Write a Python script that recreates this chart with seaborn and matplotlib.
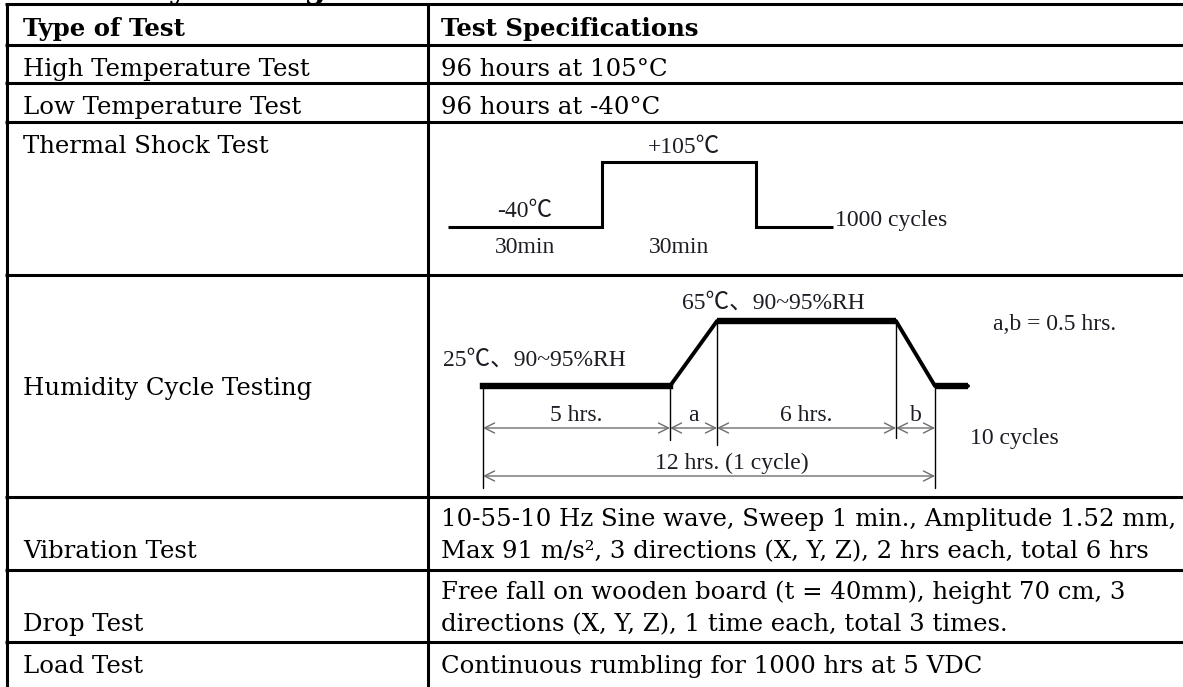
import numpy as np
import matplotlib
matplotlib.use("Agg")
import matplotlib.pyplot as plt
import matplotlib.transforms as mtransforms
import seaborn as sns

# ---------------- data ----------------
title = "Reliability Testing"
header = ["Type of Test", "Test Specifications"]
test_types = ["High Temperature Test", "Low Temperature Test", "Thermal Shock Test",
              "Humidity Cycle Testing", "Vibration Test", "Drop Test", "Load Test"]
spec_lines = [
    ["96 hours at 105°C"],
    ["96 hours at -40°C"],
    [],
    [],
    ["10-55-10 Hz Sine wave, Sweep 1 min., Amplitude 1.52 mm,",
     "Max 91 m/s², 3 directions (X, Y, Z), 2 hrs each, total 6 hrs"],
    ["Free fall on wooden board (t = 40mm), height 70 cm, 3",
     "directions (X, Y, Z), 1 time each, total 3 times."],
    ["Continuous rumbling for 1000 hrs at 5 VDC"],
]

# thermal shock profile (minutes, deg C)
shock_time_min = [0, 30, 30, 60, 60, 75]
shock_temp_c = [-40, -40, 105, 105, -40, -40]
shock_high_label = "+105℃"
shock_low_label = "-40℃"
shock_dwell_label = "30min"
shock_cycles = "1000 cycles"

# humidity cycle profile (hours, deg C)
hum_time_h = [0, 5, 5.5, 11.5, 12, 12.9]
hum_temp_c = [25, 25, 65, 65, 25, 25]
hum_segment_labels = ["5 hrs.", "a", "6 hrs.", "b"]
hum_low_label = "25℃、90~95%RH"
hum_high_label = "65℃、90~95%RH"
hum_ramp_note = "a,b = 0.5 hrs."
hum_cycle_label = "12 hrs. (1 cycle)"
hum_cycles = "10 cycles"

# ---------------- style ----------------
sns.set_theme(style="white")
BODY = ["DejaVu Serif"]
DIAG = ["Liberation Serif", "Noto Sans CJK SC", "DejaVu Sans"]
plt.rcParams["font.family"] = BODY + ["Noto Sans CJK SC"]
plt.rcParams["text.color"] = "black"

W, H = 1183, 687
fig = plt.figure(figsize=(W / 100, H / 100), dpi=100)
canvas = fig.add_axes([0, 0, 1, 1])
canvas.set_xlim(0, W)
canvas.set_ylim(H, 0)
canvas.axis("off")
renderer = fig.canvas.get_renderer()


def width_px(text, size, family, weight="normal"):
    t = fig.text(0, 0, text, fontsize=size, family=family, weight=weight)
    w = t.get_window_extent(renderer).width
    t.remove()
    return w


# body font size fitted to the reference text widths
fs_a = 10 * 290 / width_px(test_types[0], 10, BODY)
fs_b = 10 * 727 / width_px(spec_lines[4][0], 10, BODY)
BODY_FS = (fs_a + fs_b) / 2
DIAG_FS = 17

# ---------------- table grid ----------------
row_edges = [4, 45, 83, 122, 275, 497, 570, 642, 730]
x_left, x_div = 7, 428
LW = 2.2
for y in row_edges:
    canvas.plot([x_left - 1.5, W + 5], [y, y], color="black", lw=LW, solid_capstyle="butt")
for x in (x_left, x_div):
    canvas.plot([x, x], [row_edges[0], H + 5], color="black", lw=LW, solid_capstyle="butt")

# title (only descenders are visible above the table)
canvas.text(7, -2, title, fontsize=22.5, weight="bold", family=BODY, va="baseline",
            ha="left", color="black")

x_txt_l, x_txt_r = 23, 441
canvas.text(x_txt_l, 36, header[0], fontsize=BODY_FS, weight="bold", family=BODY,
            va="baseline", color="black")
canvas.text(x_txt_r, 36, header[1], fontsize=BODY_FS, weight="bold", family=BODY,
            va="baseline", color="black")

LINE = 32
spec_first = [row_edges[1] + 31, row_edges[2] + 31, None, None,
              row_edges[5] + 29, row_edges[6] + 29, row_edges[7] + 31]
name_baselines = [row_edges[1] + 31, row_edges[2] + 31, row_edges[3] + 31,
                  (row_edges[4] + row_edges[5]) / 2 + 9,
                  spec_first[4] + LINE, spec_first[5] + LINE, spec_first[6]]

for i, name in enumerate(test_types):
    canvas.text(x_txt_l, name_baselines[i], name, fontsize=BODY_FS, family=BODY,
                va="baseline", color="black")
    for j, line in enumerate(spec_lines[i]):
        canvas.text(x_txt_r, spec_first[i] + j * LINE, line, fontsize=BODY_FS,
                    family=BODY, va="baseline", color="black")

TXT_C = "#1c1c24"

# ---------------- thermal shock diagram ----------------
ax_t = fig.add_axes([448 / W, 1 - 227 / H, 385 / W, 65 / H])
ax_t.patch.set_alpha(0)
sns.lineplot(x=shock_time_min, y=shock_temp_c, ax=ax_t, sort=False, estimator=None,
             color="black", lw=2.2)
ax_t.set_xlim(0, 75)
ax_t.set_ylim(-40, 105)
ax_t.axis("off")
for ln in ax_t.lines:
    ln.set_clip_on(False)
    ln.set_solid_joinstyle("miter")
    ln.set_solid_capstyle("butt")

bt_t = mtransforms.blended_transform_factory(ax_t.transData, canvas.transData)
canvas.text(46, 153, shock_high_label, transform=bt_t, ha="center", va="baseline",
            fontsize=DIAG_FS, family=DIAG, color=TXT_C)
canvas.text(15, 217, shock_low_label, transform=bt_t, ha="center", va="baseline",
            fontsize=DIAG_FS, family=DIAG, color=TXT_C)
for xm in (15, 45):
    canvas.text(xm, 253, shock_dwell_label, transform=bt_t, ha="center", va="baseline",
                fontsize=DIAG_FS, family=DIAG, color=TXT_C)
canvas.text(75.4, 226, shock_cycles, transform=bt_t, ha="left", va="baseline",
            fontsize=DIAG_FS, family=DIAG, color=TXT_C)

# ---------------- humidity cycle diagram ----------------
px_knots = [483, 670, 717, 896, 935, 968]   # schematic drawing positions


def fwd(h):
    return np.interp(h, hum_time_h, px_knots)


def inv(p):
    return np.interp(p, px_knots, hum_time_h)


ax_h = fig.add_axes([483 / W, 1 - 386 / H, (968 - 483) / W, (386 - 321) / H])
ax_h.patch.set_alpha(0)
ax_h.set_xscale("function", functions=(fwd, inv))
sns.lineplot(x=hum_time_h, y=hum_temp_c, ax=ax_h, sort=False, estimator=None,
             color="black", lw=2.8)
# dwell plateaus drawn heavier
for k in (0, 2, 4):
    ax_h.plot(hum_time_h[k:k + 2], hum_temp_c[k:k + 2], color="black", lw=4.6,
              solid_capstyle="projecting" if k == 0 else "butt")
ax_h.set_xlim(hum_time_h[0], hum_time_h[-1])
ax_h.set_ylim(25, 65)
ax_h.axis("off")
for ln in ax_h.lines:
    ln.set_clip_on(False)

bt_h = mtransforms.blended_transform_factory(ax_h.transData, canvas.transData)
y_low_px, y_high_px = 386, 321
# extension lines
ext = [(hum_time_h[0], y_low_px, 488), (hum_time_h[1], y_low_px, 440),
       (hum_time_h[2], y_high_px, 445), (hum_time_h[3], y_high_px, 438),
       (hum_time_h[4], y_low_px, 488)]
for xh, y0, y1 in ext:
    canvas.plot([xh, xh], [y0, y1], transform=bt_h, color="black", lw=1.0, clip_on=False)

ARW = dict(arrowstyle="<->", color="#6e6e6e", lw=1.0, shrinkA=0, shrinkB=0,
           mutation_scale=18)
y_arr1, y_arr2 = 428, 476
for k, lab in enumerate(hum_segment_labels):
    x0, x1 = hum_time_h[k], hum_time_h[k + 1]
    canvas.annotate("", xy=(x1, y_arr1), xytext=(x0, y_arr1), xycoords=bt_h,
                    textcoords=bt_h, arrowprops=ARW)
    canvas.text((x0 + x1) / 2, y_arr1 - 7, lab, transform=bt_h, ha="center",
                va="baseline", fontsize=DIAG_FS, family=DIAG, color=TXT_C)
canvas.annotate("", xy=(hum_time_h[4], y_arr2), xytext=(hum_time_h[0], y_arr2),
                xycoords=bt_h, textcoords=bt_h, arrowprops=ARW)
canvas.text((hum_time_h[0] + hum_time_h[4]) / 2, y_arr2 - 7, hum_cycle_label,
            transform=bt_h, ha="center", va="baseline", fontsize=DIAG_FS,
            family=DIAG, color=TXT_C)

canvas.text(443, 366, hum_low_label, ha="left", va="baseline", fontsize=DIAG_FS,
            family=DIAG, color=TXT_C)
canvas.text(682, 309, hum_high_label, ha="left", va="baseline", fontsize=DIAG_FS,
            family=DIAG, color=TXT_C)
canvas.text(993, 330, hum_ramp_note, ha="left", va="baseline", fontsize=DIAG_FS,
            family=DIAG, color=TXT_C)
canvas.text(970, 444, hum_cycles, ha="left", va="baseline", fontsize=DIAG_FS,
            family=DIAG, color=TXT_C)

fig.savefig("out.png", dpi=100, facecolor="white")
